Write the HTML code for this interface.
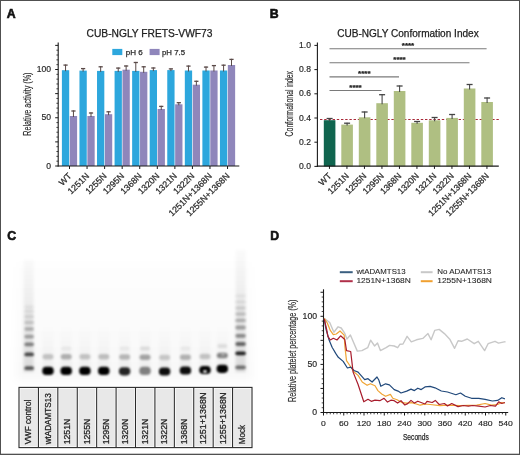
<!DOCTYPE html>
<html><head><meta charset="utf-8"><style>
html,body{margin:0;padding:0;background:#fff;}
body{width:520px;height:455px;overflow:hidden;position:relative;font-family:"Liberation Sans", sans-serif;}
svg{position:absolute;left:0;top:0;will-change:transform;}
</style></head><body>
<svg width="520" height="455" viewBox="0 0 520 455" font-family='"Liberation Sans", sans-serif'>
<defs>
<filter id="bl" x="-50%" y="-100%" width="200%" height="300%"><feGaussianBlur stdDeviation="1.1"/></filter>
<filter id="bl2" x="-50%" y="-10%" width="200%" height="120%"><feGaussianBlur stdDeviation="1.5"/></filter>
<filter id="bl4" x="-50%" y="-100%" width="200%" height="300%"><feGaussianBlur stdDeviation="1.3"/></filter>
<linearGradient id="lsm" x1="0" y1="0" x2="0" y2="1"><stop offset="0" stop-color="#000" stop-opacity="0"/><stop offset="1" stop-color="#000" stop-opacity="0.04"/></linearGradient>
<filter id="bl3" x="-10%" y="-10%" width="120%" height="120%"><feGaussianBlur stdDeviation="4"/></filter>
<linearGradient id="haze" x1="0" y1="0" x2="0" y2="1"><stop offset="0" stop-color="#000" stop-opacity="0.005"/><stop offset="0.6" stop-color="#000" stop-opacity="0.018"/><stop offset="1" stop-color="#000" stop-opacity="0.03"/></linearGradient>
<linearGradient id="smear" x1="0" y1="0" x2="0" y2="1"><stop offset="0" stop-color="#000" stop-opacity="0.02"/><stop offset="0.5" stop-color="#000" stop-opacity="0.07"/><stop offset="1" stop-color="#000" stop-opacity="0.12"/></linearGradient>
</defs>
<rect x="0" y="0" width="520" height="455" fill="#fff"/>
<g><rect x="16" y="262" width="236" height="118" fill="url(#haze)" filter="url(#bl3)"/><rect x="23.6" y="260" width="10" height="112" fill="url(#smear)" filter="url(#bl2)"/><rect x="235.6" y="250" width="10" height="122" fill="url(#smear)" filter="url(#bl2)"/><rect x="24.40" y="366.30" width="9.60" height="3.80" rx="1.90" fill="#000" fill-opacity="0.600" filter="url(#bl4)"/><rect x="24.40" y="352.50" width="9.60" height="3.80" rx="1.90" fill="#000" fill-opacity="0.680" filter="url(#bl4)"/><rect x="24.40" y="342.40" width="9.60" height="3.80" rx="1.90" fill="#000" fill-opacity="0.440" filter="url(#bl4)"/><rect x="24.40" y="334.70" width="9.60" height="3.80" rx="1.90" fill="#000" fill-opacity="0.310" filter="url(#bl4)"/><rect x="24.40" y="327.10" width="9.60" height="3.80" rx="1.90" fill="#000" fill-opacity="0.240" filter="url(#bl4)"/><rect x="24.40" y="320.60" width="9.60" height="3.80" rx="1.90" fill="#000" fill-opacity="0.160" filter="url(#bl4)"/><rect x="24.40" y="314.80" width="9.60" height="3.80" rx="1.90" fill="#000" fill-opacity="0.110" filter="url(#bl4)"/><rect x="24.40" y="309.50" width="9.60" height="3.80" rx="1.90" fill="#000" fill-opacity="0.070" filter="url(#bl4)"/><rect x="24.40" y="305.10" width="9.60" height="3.80" rx="1.90" fill="#000" fill-opacity="0.050" filter="url(#bl4)"/><rect x="235.35" y="365.40" width="10.50" height="3.80" rx="1.90" fill="#000" fill-opacity="0.500" filter="url(#bl)"/><rect x="235.35" y="351.40" width="10.50" height="3.80" rx="1.90" fill="#000" fill-opacity="0.850" filter="url(#bl)"/><rect x="235.35" y="342.10" width="10.50" height="3.80" rx="1.90" fill="#000" fill-opacity="0.550" filter="url(#bl)"/><rect x="235.35" y="333.90" width="10.50" height="3.80" rx="1.90" fill="#000" fill-opacity="0.400" filter="url(#bl)"/><rect x="235.35" y="325.60" width="10.50" height="3.80" rx="1.90" fill="#000" fill-opacity="0.320" filter="url(#bl)"/><rect x="235.35" y="318.50" width="10.50" height="3.80" rx="1.90" fill="#000" fill-opacity="0.250" filter="url(#bl)"/><rect x="235.35" y="312.10" width="10.50" height="3.80" rx="1.90" fill="#000" fill-opacity="0.180" filter="url(#bl)"/><rect x="235.35" y="306.10" width="10.50" height="3.80" rx="1.90" fill="#000" fill-opacity="0.130" filter="url(#bl)"/><rect x="235.35" y="300.10" width="10.50" height="3.80" rx="1.90" fill="#000" fill-opacity="0.080" filter="url(#bl)"/><rect x="235.35" y="294.10" width="10.50" height="3.80" rx="1.90" fill="#000" fill-opacity="0.050" filter="url(#bl)"/><rect x="42.5" y="325" width="11" height="47" fill="url(#lsm)" filter="url(#bl2)"/><rect x="60.7" y="325" width="11" height="47" fill="url(#lsm)" filter="url(#bl2)"/><rect x="79.4" y="325" width="11" height="47" fill="url(#lsm)" filter="url(#bl2)"/><rect x="98.3" y="325" width="11" height="47" fill="url(#lsm)" filter="url(#bl2)"/><rect x="119.1" y="325" width="11" height="47" fill="url(#lsm)" filter="url(#bl2)"/><rect x="139.5" y="325" width="11" height="47" fill="url(#lsm)" filter="url(#bl2)"/><rect x="159.1" y="325" width="11" height="47" fill="url(#lsm)" filter="url(#bl2)"/><rect x="179.9" y="325" width="11" height="47" fill="url(#lsm)" filter="url(#bl2)"/><rect x="199.5" y="325" width="11" height="47" fill="url(#lsm)" filter="url(#bl2)"/><rect x="216.8" y="325" width="11" height="47" fill="url(#lsm)" filter="url(#bl2)"/><rect x="42.30" y="366.80" width="11.40" height="8.20" rx="3.80" fill="#000" fill-opacity="1.000" filter="url(#bl)"/><rect x="42.50" y="354.05" width="11.00" height="5.50" rx="2.75" fill="#000" fill-opacity="0.200" filter="url(#bl)"/><rect x="60.50" y="366.80" width="11.40" height="8.20" rx="3.80" fill="#000" fill-opacity="1.000" filter="url(#bl)"/><rect x="60.70" y="354.05" width="11.00" height="5.50" rx="2.75" fill="#000" fill-opacity="0.280" filter="url(#bl)"/><rect x="79.20" y="366.80" width="11.40" height="8.20" rx="3.80" fill="#000" fill-opacity="1.000" filter="url(#bl)"/><rect x="79.40" y="354.05" width="11.00" height="5.50" rx="2.75" fill="#000" fill-opacity="0.200" filter="url(#bl)"/><rect x="98.10" y="366.80" width="11.40" height="8.20" rx="3.80" fill="#000" fill-opacity="1.000" filter="url(#bl)"/><rect x="98.30" y="354.05" width="11.00" height="5.50" rx="2.75" fill="#000" fill-opacity="0.220" filter="url(#bl)"/><rect x="118.90" y="367.20" width="11.40" height="8.20" rx="3.80" fill="#000" fill-opacity="0.850" filter="url(#bl)"/><rect x="119.10" y="354.35" width="11.00" height="5.50" rx="2.75" fill="#000" fill-opacity="0.250" filter="url(#bl)"/><rect x="139.30" y="366.80" width="11.40" height="8.20" rx="3.80" fill="#000" fill-opacity="0.470" filter="url(#bl)"/><rect x="139.50" y="354.45" width="11.00" height="5.50" rx="2.75" fill="#000" fill-opacity="0.330" filter="url(#bl)"/><rect x="158.90" y="367.40" width="11.40" height="8.20" rx="3.80" fill="#000" fill-opacity="0.950" filter="url(#bl)"/><rect x="159.10" y="354.65" width="11.00" height="5.50" rx="2.75" fill="#000" fill-opacity="0.180" filter="url(#bl)"/><rect x="179.70" y="366.40" width="11.40" height="8.20" rx="3.80" fill="#000" fill-opacity="0.950" filter="url(#bl)"/><rect x="179.90" y="354.45" width="11.00" height="5.50" rx="2.75" fill="#000" fill-opacity="0.270" filter="url(#bl)"/><rect x="199.30" y="365.90" width="11.40" height="8.20" rx="3.80" fill="#000" fill-opacity="1.000" filter="url(#bl)"/><rect x="199.50" y="353.85" width="11.00" height="5.50" rx="2.75" fill="#000" fill-opacity="0.200" filter="url(#bl)"/><rect x="216.60" y="364.70" width="11.40" height="8.20" rx="3.80" fill="#000" fill-opacity="1.000" filter="url(#bl)"/><rect x="216.80" y="352.65" width="11.00" height="5.50" rx="2.75" fill="#000" fill-opacity="0.450" filter="url(#bl)"/><rect x="140.00" y="346.50" width="10.00" height="4.00" rx="2.00" fill="#000" fill-opacity="0.100" filter="url(#bl)"/><rect x="217.30" y="344.00" width="10.00" height="4.00" rx="2.00" fill="#000" fill-opacity="0.100" filter="url(#bl)"/><rect x="61.20" y="346.50" width="10.00" height="4.00" rx="2.00" fill="#000" fill-opacity="0.050" filter="url(#bl)"/><rect x="119.60" y="346.50" width="10.00" height="4.00" rx="2.00" fill="#000" fill-opacity="0.050" filter="url(#bl)"/><rect x="180.40" y="346.50" width="10.00" height="4.00" rx="2.00" fill="#000" fill-opacity="0.050" filter="url(#bl)"/><ellipse cx="205" cy="371.6" rx="1.8" ry="1.5" fill="#fff" filter="url(#bl)"/><ellipse cx="223" cy="354.5" rx="1.5" ry="0.9" fill="#fff" fill-opacity="0.5" filter="url(#bl)"/></g>
<text x="6.80" y="17.80" font-size="12.3" text-anchor="start" fill="#111" stroke="#111" stroke-width="0.6" font-weight="bold" >A</text>
<text x="86.50" y="36.80" font-size="10" text-anchor="start" fill="#222" stroke="#222" stroke-width="0.25" textLength="126" lengthAdjust="spacingAndGlyphs" >CUB-NGLY FRETS-VWF73</text>
<rect x="112.30" y="48.90" width="10.00" height="6.20" fill="#2da7dd" />
<text x="125.80" y="54.50" font-size="8" text-anchor="start" fill="#2a2a2a" stroke="#2a2a2a" stroke-width="0.25" textLength="17" lengthAdjust="spacingAndGlyphs" >pH 6</text>
<rect x="149.60" y="48.90" width="10.00" height="6.20" fill="#8f86bb" />
<text x="162.00" y="54.50" font-size="8" text-anchor="start" fill="#2a2a2a" stroke="#2a2a2a" stroke-width="0.25" textLength="23" lengthAdjust="spacingAndGlyphs" >pH 7.5</text>
<rect x="61.90" y="70.20" width="7.30" height="95.80" fill="#2da7dd" />
<rect x="69.80" y="116.00" width="7.30" height="50.00" fill="#8f86bb" />
<rect x="79.46" y="70.60" width="7.30" height="95.40" fill="#2da7dd" />
<rect x="87.36" y="116.00" width="7.30" height="50.00" fill="#8f86bb" />
<rect x="97.02" y="70.90" width="7.30" height="95.10" fill="#2da7dd" />
<rect x="104.92" y="114.20" width="7.30" height="51.80" fill="#8f86bb" />
<rect x="114.58" y="70.90" width="7.30" height="95.10" fill="#2da7dd" />
<rect x="122.48" y="69.70" width="7.30" height="96.30" fill="#8f86bb" />
<rect x="132.14" y="70.90" width="7.30" height="95.10" fill="#2da7dd" />
<rect x="140.04" y="71.80" width="7.30" height="94.20" fill="#8f86bb" />
<rect x="149.70" y="70.10" width="7.30" height="95.90" fill="#2da7dd" />
<rect x="157.60" y="109.00" width="7.30" height="57.00" fill="#8f86bb" />
<rect x="167.26" y="70.10" width="7.30" height="95.90" fill="#2da7dd" />
<rect x="175.16" y="104.30" width="7.30" height="61.70" fill="#8f86bb" />
<rect x="184.82" y="70.50" width="7.30" height="95.50" fill="#2da7dd" />
<rect x="192.72" y="84.70" width="7.30" height="81.30" fill="#8f86bb" />
<rect x="202.38" y="70.50" width="7.30" height="95.50" fill="#2da7dd" />
<rect x="210.28" y="70.50" width="7.30" height="95.50" fill="#8f86bb" />
<rect x="219.94" y="70.50" width="7.30" height="95.50" fill="#2da7dd" />
<rect x="227.84" y="65.00" width="7.30" height="101.00" fill="#8f86bb" />
<line x1="65.55" y1="64.50" x2="65.55" y2="71.20" stroke="#5a4a48" stroke-width="1" />
<line x1="63.45" y1="65.10" x2="67.65" y2="65.10" stroke="#5a4a48" stroke-width="1.3" />
<line x1="73.45" y1="110.40" x2="73.45" y2="117.00" stroke="#5a4a48" stroke-width="1" />
<line x1="71.35" y1="111.00" x2="75.55" y2="111.00" stroke="#5a4a48" stroke-width="1.3" />
<line x1="83.11" y1="68.00" x2="83.11" y2="71.60" stroke="#5a4a48" stroke-width="1" />
<line x1="81.01" y1="68.60" x2="85.21" y2="68.60" stroke="#5a4a48" stroke-width="1.3" />
<line x1="91.01" y1="112.40" x2="91.01" y2="117.00" stroke="#5a4a48" stroke-width="1" />
<line x1="88.91" y1="113.00" x2="93.11" y2="113.00" stroke="#5a4a48" stroke-width="1.3" />
<line x1="100.67" y1="66.20" x2="100.67" y2="71.90" stroke="#5a4a48" stroke-width="1" />
<line x1="98.57" y1="66.80" x2="102.77" y2="66.80" stroke="#5a4a48" stroke-width="1.3" />
<line x1="108.57" y1="111.20" x2="108.57" y2="115.20" stroke="#5a4a48" stroke-width="1" />
<line x1="106.47" y1="111.80" x2="110.67" y2="111.80" stroke="#5a4a48" stroke-width="1.3" />
<line x1="118.23" y1="67.50" x2="118.23" y2="71.90" stroke="#5a4a48" stroke-width="1" />
<line x1="116.13" y1="68.10" x2="120.33" y2="68.10" stroke="#5a4a48" stroke-width="1.3" />
<line x1="126.13" y1="65.40" x2="126.13" y2="70.70" stroke="#5a4a48" stroke-width="1" />
<line x1="124.03" y1="66.00" x2="128.23" y2="66.00" stroke="#5a4a48" stroke-width="1.3" />
<line x1="135.79" y1="61.90" x2="135.79" y2="71.90" stroke="#5a4a48" stroke-width="1" />
<line x1="133.69" y1="62.50" x2="137.89" y2="62.50" stroke="#5a4a48" stroke-width="1.3" />
<line x1="143.69" y1="66.20" x2="143.69" y2="72.80" stroke="#5a4a48" stroke-width="1" />
<line x1="141.59" y1="66.80" x2="145.79" y2="66.80" stroke="#5a4a48" stroke-width="1.3" />
<line x1="153.35" y1="67.40" x2="153.35" y2="71.10" stroke="#5a4a48" stroke-width="1" />
<line x1="151.25" y1="68.00" x2="155.45" y2="68.00" stroke="#5a4a48" stroke-width="1.3" />
<line x1="161.25" y1="105.80" x2="161.25" y2="110.00" stroke="#5a4a48" stroke-width="1" />
<line x1="159.15" y1="106.40" x2="163.35" y2="106.40" stroke="#5a4a48" stroke-width="1.3" />
<line x1="170.91" y1="68.30" x2="170.91" y2="71.10" stroke="#5a4a48" stroke-width="1" />
<line x1="168.81" y1="68.90" x2="173.01" y2="68.90" stroke="#5a4a48" stroke-width="1.3" />
<line x1="178.81" y1="102.10" x2="178.81" y2="105.30" stroke="#5a4a48" stroke-width="1" />
<line x1="176.71" y1="102.70" x2="180.91" y2="102.70" stroke="#5a4a48" stroke-width="1.3" />
<line x1="188.47" y1="65.50" x2="188.47" y2="71.50" stroke="#5a4a48" stroke-width="1" />
<line x1="186.37" y1="66.10" x2="190.57" y2="66.10" stroke="#5a4a48" stroke-width="1.3" />
<line x1="196.37" y1="80.70" x2="196.37" y2="85.70" stroke="#5a4a48" stroke-width="1" />
<line x1="194.27" y1="81.30" x2="198.47" y2="81.30" stroke="#5a4a48" stroke-width="1.3" />
<line x1="206.03" y1="66.50" x2="206.03" y2="71.50" stroke="#5a4a48" stroke-width="1" />
<line x1="203.93" y1="67.10" x2="208.13" y2="67.10" stroke="#5a4a48" stroke-width="1.3" />
<line x1="213.93" y1="65.00" x2="213.93" y2="71.50" stroke="#5a4a48" stroke-width="1" />
<line x1="211.83" y1="65.60" x2="216.03" y2="65.60" stroke="#5a4a48" stroke-width="1.3" />
<line x1="223.59" y1="64.60" x2="223.59" y2="71.50" stroke="#5a4a48" stroke-width="1" />
<line x1="221.49" y1="65.20" x2="225.69" y2="65.20" stroke="#5a4a48" stroke-width="1.3" />
<line x1="231.49" y1="58.80" x2="231.49" y2="66.00" stroke="#5a4a48" stroke-width="1" />
<line x1="229.39" y1="59.40" x2="233.59" y2="59.40" stroke="#5a4a48" stroke-width="1.3" />
<line x1="58.20" y1="42.60" x2="58.20" y2="166.60" stroke="#1a1a1a" stroke-width="1.1" />
<line x1="57.70" y1="166.00" x2="239.30" y2="166.00" stroke="#1a1a1a" stroke-width="1.1" />
<line x1="55.20" y1="166.00" x2="58.20" y2="166.00" stroke="#1a1a1a" stroke-width="1" />
<line x1="56.40" y1="161.18" x2="58.20" y2="161.18" stroke="#1a1a1a" stroke-width="0.8" />
<line x1="56.40" y1="156.35" x2="58.20" y2="156.35" stroke="#1a1a1a" stroke-width="0.8" />
<line x1="56.40" y1="151.53" x2="58.20" y2="151.53" stroke="#1a1a1a" stroke-width="0.8" />
<line x1="56.40" y1="146.70" x2="58.20" y2="146.70" stroke="#1a1a1a" stroke-width="0.8" />
<line x1="55.20" y1="141.88" x2="58.20" y2="141.88" stroke="#1a1a1a" stroke-width="1" />
<line x1="56.40" y1="137.05" x2="58.20" y2="137.05" stroke="#1a1a1a" stroke-width="0.8" />
<line x1="56.40" y1="132.22" x2="58.20" y2="132.22" stroke="#1a1a1a" stroke-width="0.8" />
<line x1="56.40" y1="127.40" x2="58.20" y2="127.40" stroke="#1a1a1a" stroke-width="0.8" />
<line x1="56.40" y1="122.58" x2="58.20" y2="122.58" stroke="#1a1a1a" stroke-width="0.8" />
<line x1="55.20" y1="117.75" x2="58.20" y2="117.75" stroke="#1a1a1a" stroke-width="1" />
<line x1="56.40" y1="112.93" x2="58.20" y2="112.93" stroke="#1a1a1a" stroke-width="0.8" />
<line x1="56.40" y1="108.10" x2="58.20" y2="108.10" stroke="#1a1a1a" stroke-width="0.8" />
<line x1="56.40" y1="103.28" x2="58.20" y2="103.28" stroke="#1a1a1a" stroke-width="0.8" />
<line x1="56.40" y1="98.45" x2="58.20" y2="98.45" stroke="#1a1a1a" stroke-width="0.8" />
<line x1="55.20" y1="93.62" x2="58.20" y2="93.62" stroke="#1a1a1a" stroke-width="1" />
<line x1="56.40" y1="88.80" x2="58.20" y2="88.80" stroke="#1a1a1a" stroke-width="0.8" />
<line x1="56.40" y1="83.98" x2="58.20" y2="83.98" stroke="#1a1a1a" stroke-width="0.8" />
<line x1="56.40" y1="79.15" x2="58.20" y2="79.15" stroke="#1a1a1a" stroke-width="0.8" />
<line x1="56.40" y1="74.33" x2="58.20" y2="74.33" stroke="#1a1a1a" stroke-width="0.8" />
<line x1="55.20" y1="69.50" x2="58.20" y2="69.50" stroke="#1a1a1a" stroke-width="1" />
<line x1="56.40" y1="64.67" x2="58.20" y2="64.67" stroke="#1a1a1a" stroke-width="0.8" />
<line x1="56.40" y1="59.85" x2="58.20" y2="59.85" stroke="#1a1a1a" stroke-width="0.8" />
<line x1="56.40" y1="55.03" x2="58.20" y2="55.03" stroke="#1a1a1a" stroke-width="0.8" />
<line x1="56.40" y1="50.20" x2="58.20" y2="50.20" stroke="#1a1a1a" stroke-width="0.8" />
<line x1="55.20" y1="45.38" x2="58.20" y2="45.38" stroke="#1a1a1a" stroke-width="1" />
<text x="51.10" y="168.60" font-size="8.3" text-anchor="end" fill="#2a2a2a" stroke="#2a2a2a" stroke-width="0.18" textLength="4.78" lengthAdjust="spacingAndGlyphs" >0</text>
<text x="51.10" y="120.35" font-size="8.3" text-anchor="end" fill="#2a2a2a" stroke="#2a2a2a" stroke-width="0.18" textLength="9.56" lengthAdjust="spacingAndGlyphs" >50</text>
<text x="51.10" y="72.10" font-size="8.3" text-anchor="end" fill="#2a2a2a" stroke="#2a2a2a" stroke-width="0.18" textLength="14.35" lengthAdjust="spacingAndGlyphs" >100</text>
<text x="30.80" y="104.10" font-size="10.2" text-anchor="middle" fill="#2a2a2a" stroke="#2a2a2a" stroke-width="0.15" textLength="63.2" lengthAdjust="spacingAndGlyphs" transform="rotate(-90 30.80 104.10)" >Relative activity (%)</text>
<line x1="69.50" y1="166.00" x2="69.50" y2="169.00" stroke="#1a1a1a" stroke-width="1" />
<text x="72.10" y="176.50" font-size="8.8" text-anchor="end" fill="#2a2a2a" stroke="#2a2a2a" stroke-width="0.25" textLength="13.68" lengthAdjust="spacingAndGlyphs" transform="rotate(-45 72.10 176.50)" >WT</text>
<line x1="87.06" y1="166.00" x2="87.06" y2="169.00" stroke="#1a1a1a" stroke-width="1" />
<text x="89.66" y="176.50" font-size="8.8" text-anchor="end" fill="#2a2a2a" stroke="#2a2a2a" stroke-width="0.25" textLength="25.93" lengthAdjust="spacingAndGlyphs" transform="rotate(-45 89.66 176.50)" >1251N</text>
<line x1="104.62" y1="166.00" x2="104.62" y2="169.00" stroke="#1a1a1a" stroke-width="1" />
<text x="107.22" y="176.50" font-size="8.8" text-anchor="end" fill="#2a2a2a" stroke="#2a2a2a" stroke-width="0.25" textLength="25.93" lengthAdjust="spacingAndGlyphs" transform="rotate(-45 107.22 176.50)" >1255N</text>
<line x1="122.18" y1="166.00" x2="122.18" y2="169.00" stroke="#1a1a1a" stroke-width="1" />
<text x="124.78" y="176.50" font-size="8.8" text-anchor="end" fill="#2a2a2a" stroke="#2a2a2a" stroke-width="0.25" textLength="25.93" lengthAdjust="spacingAndGlyphs" transform="rotate(-45 124.78 176.50)" >1295N</text>
<line x1="139.74" y1="166.00" x2="139.74" y2="169.00" stroke="#1a1a1a" stroke-width="1" />
<text x="142.34" y="176.50" font-size="8.8" text-anchor="end" fill="#2a2a2a" stroke="#2a2a2a" stroke-width="0.25" textLength="25.93" lengthAdjust="spacingAndGlyphs" transform="rotate(-45 142.34 176.50)" >1368N</text>
<line x1="157.30" y1="166.00" x2="157.30" y2="169.00" stroke="#1a1a1a" stroke-width="1" />
<text x="159.90" y="176.50" font-size="8.8" text-anchor="end" fill="#2a2a2a" stroke="#2a2a2a" stroke-width="0.25" textLength="25.93" lengthAdjust="spacingAndGlyphs" transform="rotate(-45 159.90 176.50)" >1320N</text>
<line x1="174.86" y1="166.00" x2="174.86" y2="169.00" stroke="#1a1a1a" stroke-width="1" />
<text x="177.46" y="176.50" font-size="8.8" text-anchor="end" fill="#2a2a2a" stroke="#2a2a2a" stroke-width="0.25" textLength="25.93" lengthAdjust="spacingAndGlyphs" transform="rotate(-45 177.46 176.50)" >1321N</text>
<line x1="192.42" y1="166.00" x2="192.42" y2="169.00" stroke="#1a1a1a" stroke-width="1" />
<text x="195.02" y="176.50" font-size="8.8" text-anchor="end" fill="#2a2a2a" stroke="#2a2a2a" stroke-width="0.25" textLength="25.93" lengthAdjust="spacingAndGlyphs" transform="rotate(-45 195.02 176.50)" >1322N</text>
<line x1="209.98" y1="166.00" x2="209.98" y2="169.00" stroke="#1a1a1a" stroke-width="1" />
<text x="212.58" y="176.50" font-size="8.8" text-anchor="end" fill="#2a2a2a" stroke="#2a2a2a" stroke-width="0.25" textLength="57.0" lengthAdjust="spacingAndGlyphs" transform="rotate(-45 212.58 176.50)" >1251N+1368N</text>
<line x1="227.54" y1="166.00" x2="227.54" y2="169.00" stroke="#1a1a1a" stroke-width="1" />
<text x="230.14" y="176.50" font-size="8.8" text-anchor="end" fill="#2a2a2a" stroke="#2a2a2a" stroke-width="0.25" textLength="57.0" lengthAdjust="spacingAndGlyphs" transform="rotate(-45 230.14 176.50)" >1255N+1368N</text>
<text x="269.80" y="17.80" font-size="12.3" text-anchor="start" fill="#111" stroke="#111" stroke-width="0.6" font-weight="bold" >B</text>
<text x="337.20" y="36.80" font-size="10" text-anchor="start" fill="#222" stroke="#222" stroke-width="0.25" textLength="141.5" lengthAdjust="spacingAndGlyphs" >CUB-NGLY Conformation Index</text>
<line x1="320.00" y1="119.50" x2="499.70" y2="119.50" stroke="#a82838" stroke-width="1.1" stroke-dasharray="2.4 1.8"/>
<rect x="323.80" y="120.20" width="11.60" height="46.20" fill="#10654f" />
<rect x="341.30" y="124.60" width="11.60" height="41.80" fill="#afbf82" />
<rect x="358.80" y="117.30" width="11.60" height="49.10" fill="#afbf82" />
<rect x="376.30" y="103.20" width="11.60" height="63.20" fill="#afbf82" />
<rect x="393.80" y="91.00" width="11.60" height="75.40" fill="#afbf82" />
<rect x="411.30" y="122.80" width="11.60" height="43.60" fill="#afbf82" />
<rect x="428.80" y="120.30" width="11.60" height="46.10" fill="#afbf82" />
<rect x="446.30" y="117.90" width="11.60" height="48.50" fill="#afbf82" />
<rect x="463.80" y="88.50" width="11.60" height="77.90" fill="#afbf82" />
<rect x="481.30" y="102.00" width="11.60" height="64.40" fill="#afbf82" />
<line x1="329.60" y1="118.00" x2="329.60" y2="121.20" stroke="#4a4a4a" stroke-width="1.1" />
<line x1="326.60" y1="118.50" x2="332.60" y2="118.50" stroke="#444" stroke-width="1.3" />
<line x1="347.10" y1="122.70" x2="347.10" y2="125.60" stroke="#4a4a4a" stroke-width="1.1" />
<line x1="344.10" y1="123.20" x2="350.10" y2="123.20" stroke="#444" stroke-width="1.3" />
<line x1="364.60" y1="111.50" x2="364.60" y2="118.30" stroke="#4a4a4a" stroke-width="1.1" />
<line x1="361.60" y1="112.00" x2="367.60" y2="112.00" stroke="#444" stroke-width="1.3" />
<line x1="382.10" y1="94.20" x2="382.10" y2="104.20" stroke="#4a4a4a" stroke-width="1.1" />
<line x1="379.10" y1="94.70" x2="385.10" y2="94.70" stroke="#444" stroke-width="1.3" />
<line x1="399.60" y1="85.50" x2="399.60" y2="92.00" stroke="#4a4a4a" stroke-width="1.1" />
<line x1="396.60" y1="86.00" x2="402.60" y2="86.00" stroke="#444" stroke-width="1.3" />
<line x1="417.10" y1="121.00" x2="417.10" y2="123.80" stroke="#4a4a4a" stroke-width="1.1" />
<line x1="414.10" y1="121.50" x2="420.10" y2="121.50" stroke="#444" stroke-width="1.3" />
<line x1="434.60" y1="117.00" x2="434.60" y2="121.30" stroke="#4a4a4a" stroke-width="1.1" />
<line x1="431.60" y1="117.50" x2="437.60" y2="117.50" stroke="#444" stroke-width="1.3" />
<line x1="452.10" y1="114.00" x2="452.10" y2="118.90" stroke="#4a4a4a" stroke-width="1.1" />
<line x1="449.10" y1="114.50" x2="455.10" y2="114.50" stroke="#444" stroke-width="1.3" />
<line x1="469.60" y1="84.00" x2="469.60" y2="89.50" stroke="#4a4a4a" stroke-width="1.1" />
<line x1="466.60" y1="84.50" x2="472.60" y2="84.50" stroke="#444" stroke-width="1.3" />
<line x1="487.10" y1="97.50" x2="487.10" y2="103.00" stroke="#4a4a4a" stroke-width="1.1" />
<line x1="484.10" y1="98.00" x2="490.10" y2="98.00" stroke="#444" stroke-width="1.3" />
<line x1="317.40" y1="42.50" x2="317.40" y2="167.00" stroke="#1a1a1a" stroke-width="1.1" />
<line x1="316.90" y1="166.10" x2="498.80" y2="166.10" stroke="#1a1a1a" stroke-width="1.1" />
<line x1="314.40" y1="166.40" x2="317.40" y2="166.40" stroke="#1a1a1a" stroke-width="1" />
<text x="311.00" y="169.00" font-size="8.3" text-anchor="end" fill="#2a2a2a" stroke="#2a2a2a" stroke-width="0.18" textLength="11.95" lengthAdjust="spacingAndGlyphs" >0.0</text>
<line x1="314.40" y1="142.20" x2="317.40" y2="142.20" stroke="#1a1a1a" stroke-width="1" />
<text x="311.00" y="144.80" font-size="8.3" text-anchor="end" fill="#2a2a2a" stroke="#2a2a2a" stroke-width="0.18" textLength="11.95" lengthAdjust="spacingAndGlyphs" >0.2</text>
<line x1="314.40" y1="118.00" x2="317.40" y2="118.00" stroke="#1a1a1a" stroke-width="1" />
<text x="311.00" y="120.60" font-size="8.3" text-anchor="end" fill="#2a2a2a" stroke="#2a2a2a" stroke-width="0.18" textLength="11.95" lengthAdjust="spacingAndGlyphs" >0.4</text>
<line x1="314.40" y1="93.80" x2="317.40" y2="93.80" stroke="#1a1a1a" stroke-width="1" />
<text x="311.00" y="96.40" font-size="8.3" text-anchor="end" fill="#2a2a2a" stroke="#2a2a2a" stroke-width="0.18" textLength="11.95" lengthAdjust="spacingAndGlyphs" >0.6</text>
<line x1="314.40" y1="69.60" x2="317.40" y2="69.60" stroke="#1a1a1a" stroke-width="1" />
<text x="311.00" y="72.20" font-size="8.3" text-anchor="end" fill="#2a2a2a" stroke="#2a2a2a" stroke-width="0.18" textLength="11.95" lengthAdjust="spacingAndGlyphs" >0.8</text>
<line x1="314.40" y1="45.40" x2="317.40" y2="45.40" stroke="#1a1a1a" stroke-width="1" />
<text x="311.00" y="48.00" font-size="8.3" text-anchor="end" fill="#2a2a2a" stroke="#2a2a2a" stroke-width="0.18" textLength="11.95" lengthAdjust="spacingAndGlyphs" >1.0</text>
<text x="293.10" y="103.70" font-size="10" text-anchor="middle" fill="#2a2a2a" stroke="#2a2a2a" stroke-width="0.15" textLength="65.4" lengthAdjust="spacingAndGlyphs" transform="rotate(-90 293.10 103.70)" >Conformational index</text>
<line x1="329.45" y1="165.80" x2="329.45" y2="168.90" stroke="#1a1a1a" stroke-width="1" />
<text x="332.05" y="176.50" font-size="8.8" text-anchor="end" fill="#2a2a2a" stroke="#2a2a2a" stroke-width="0.25" textLength="13.68" lengthAdjust="spacingAndGlyphs" transform="rotate(-45 332.05 176.50)" >WT</text>
<line x1="346.95" y1="165.80" x2="346.95" y2="168.90" stroke="#1a1a1a" stroke-width="1" />
<text x="349.55" y="176.50" font-size="8.8" text-anchor="end" fill="#2a2a2a" stroke="#2a2a2a" stroke-width="0.25" textLength="25.93" lengthAdjust="spacingAndGlyphs" transform="rotate(-45 349.55 176.50)" >1251N</text>
<line x1="364.45" y1="165.80" x2="364.45" y2="168.90" stroke="#1a1a1a" stroke-width="1" />
<text x="367.05" y="176.50" font-size="8.8" text-anchor="end" fill="#2a2a2a" stroke="#2a2a2a" stroke-width="0.25" textLength="25.93" lengthAdjust="spacingAndGlyphs" transform="rotate(-45 367.05 176.50)" >1255N</text>
<line x1="381.95" y1="165.80" x2="381.95" y2="168.90" stroke="#1a1a1a" stroke-width="1" />
<text x="384.55" y="176.50" font-size="8.8" text-anchor="end" fill="#2a2a2a" stroke="#2a2a2a" stroke-width="0.25" textLength="25.93" lengthAdjust="spacingAndGlyphs" transform="rotate(-45 384.55 176.50)" >1295N</text>
<line x1="399.45" y1="165.80" x2="399.45" y2="168.90" stroke="#1a1a1a" stroke-width="1" />
<text x="402.05" y="176.50" font-size="8.8" text-anchor="end" fill="#2a2a2a" stroke="#2a2a2a" stroke-width="0.25" textLength="25.93" lengthAdjust="spacingAndGlyphs" transform="rotate(-45 402.05 176.50)" >1368N</text>
<line x1="416.95" y1="165.80" x2="416.95" y2="168.90" stroke="#1a1a1a" stroke-width="1" />
<text x="419.55" y="176.50" font-size="8.8" text-anchor="end" fill="#2a2a2a" stroke="#2a2a2a" stroke-width="0.25" textLength="25.93" lengthAdjust="spacingAndGlyphs" transform="rotate(-45 419.55 176.50)" >1320N</text>
<line x1="434.45" y1="165.80" x2="434.45" y2="168.90" stroke="#1a1a1a" stroke-width="1" />
<text x="437.05" y="176.50" font-size="8.8" text-anchor="end" fill="#2a2a2a" stroke="#2a2a2a" stroke-width="0.25" textLength="25.93" lengthAdjust="spacingAndGlyphs" transform="rotate(-45 437.05 176.50)" >1321N</text>
<line x1="451.95" y1="165.80" x2="451.95" y2="168.90" stroke="#1a1a1a" stroke-width="1" />
<text x="454.55" y="176.50" font-size="8.8" text-anchor="end" fill="#2a2a2a" stroke="#2a2a2a" stroke-width="0.25" textLength="25.93" lengthAdjust="spacingAndGlyphs" transform="rotate(-45 454.55 176.50)" >1322N</text>
<line x1="469.45" y1="165.80" x2="469.45" y2="168.90" stroke="#1a1a1a" stroke-width="1" />
<text x="472.05" y="176.50" font-size="8.8" text-anchor="end" fill="#2a2a2a" stroke="#2a2a2a" stroke-width="0.25" textLength="57.0" lengthAdjust="spacingAndGlyphs" transform="rotate(-45 472.05 176.50)" >1251N+1368N</text>
<line x1="486.95" y1="165.80" x2="486.95" y2="168.90" stroke="#1a1a1a" stroke-width="1" />
<text x="489.55" y="176.50" font-size="8.8" text-anchor="end" fill="#2a2a2a" stroke="#2a2a2a" stroke-width="0.25" textLength="57.0" lengthAdjust="spacingAndGlyphs" transform="rotate(-45 489.55 176.50)" >1255N+1368N</text>
<line x1="329.50" y1="48.80" x2="486.60" y2="48.80" stroke="#7a7a7a" stroke-width="1.1" />
<text x="408.00" y="48.10" font-size="8" text-anchor="middle" fill="#222" stroke="#222" stroke-width="0.25" font-weight="bold" >****</text>
<line x1="329.50" y1="62.80" x2="469.50" y2="62.80" stroke="#7a7a7a" stroke-width="1.1" />
<text x="399.50" y="62.10" font-size="8" text-anchor="middle" fill="#222" stroke="#222" stroke-width="0.25" font-weight="bold" >****</text>
<line x1="329.50" y1="76.90" x2="399.00" y2="76.90" stroke="#7a7a7a" stroke-width="1.1" />
<text x="364.30" y="76.20" font-size="8" text-anchor="middle" fill="#222" stroke="#222" stroke-width="0.25" font-weight="bold" >****</text>
<line x1="329.50" y1="90.50" x2="381.50" y2="90.50" stroke="#7a7a7a" stroke-width="1.1" />
<text x="355.50" y="89.80" font-size="8" text-anchor="middle" fill="#222" stroke="#222" stroke-width="0.25" font-weight="bold" >****</text>
<text x="7.30" y="239.60" font-size="12.3" text-anchor="start" fill="#111" stroke="#111" stroke-width="0.6" font-weight="bold" >C</text>
<rect x="19.00" y="387.40" width="233.00" height="60.20" fill="#fff" stroke="#2a2a2a" stroke-width="1.1"/>
<rect x="20.30" y="388.70" width="16.82" height="57.60" fill="#e8e8e8" />
<rect x="39.72" y="388.70" width="16.82" height="57.60" fill="#e8e8e8" />
<rect x="59.13" y="388.70" width="16.82" height="57.60" fill="#e8e8e8" />
<rect x="78.55" y="388.70" width="16.82" height="57.60" fill="#e8e8e8" />
<rect x="97.97" y="388.70" width="16.82" height="57.60" fill="#e8e8e8" />
<rect x="117.38" y="388.70" width="16.82" height="57.60" fill="#e8e8e8" />
<rect x="136.80" y="388.70" width="16.82" height="57.60" fill="#e8e8e8" />
<rect x="156.22" y="388.70" width="16.82" height="57.60" fill="#e8e8e8" />
<rect x="175.63" y="388.70" width="16.82" height="57.60" fill="#e8e8e8" />
<rect x="195.05" y="388.70" width="16.82" height="57.60" fill="#e8e8e8" />
<rect x="214.47" y="388.70" width="16.82" height="57.60" fill="#e8e8e8" />
<rect x="233.88" y="388.70" width="16.82" height="57.60" fill="#e8e8e8" />
<line x1="38.42" y1="387.40" x2="38.42" y2="447.60" stroke="#2a2a2a" stroke-width="1.1" />
<line x1="57.83" y1="387.40" x2="57.83" y2="447.60" stroke="#2a2a2a" stroke-width="1.1" />
<line x1="77.25" y1="387.40" x2="77.25" y2="447.60" stroke="#2a2a2a" stroke-width="1.1" />
<line x1="96.67" y1="387.40" x2="96.67" y2="447.60" stroke="#2a2a2a" stroke-width="1.1" />
<line x1="116.08" y1="387.40" x2="116.08" y2="447.60" stroke="#2a2a2a" stroke-width="1.1" />
<line x1="135.50" y1="387.40" x2="135.50" y2="447.60" stroke="#2a2a2a" stroke-width="1.1" />
<line x1="154.92" y1="387.40" x2="154.92" y2="447.60" stroke="#2a2a2a" stroke-width="1.1" />
<line x1="174.33" y1="387.40" x2="174.33" y2="447.60" stroke="#2a2a2a" stroke-width="1.1" />
<line x1="193.75" y1="387.40" x2="193.75" y2="447.60" stroke="#2a2a2a" stroke-width="1.1" />
<line x1="213.17" y1="387.40" x2="213.17" y2="447.60" stroke="#2a2a2a" stroke-width="1.1" />
<line x1="232.58" y1="387.40" x2="232.58" y2="447.60" stroke="#2a2a2a" stroke-width="1.1" />
<text x="31.41" y="444.30" font-size="8.3" text-anchor="start" fill="#222" stroke="#222" stroke-width="0.25" textLength="44.67" lengthAdjust="spacingAndGlyphs" transform="rotate(-90 31.41 444.30)" >VWF control</text>
<text x="50.83" y="444.30" font-size="8.3" text-anchor="start" fill="#222" stroke="#222" stroke-width="0.25" textLength="50.99" lengthAdjust="spacingAndGlyphs" transform="rotate(-90 50.83 444.30)" >wtADAMTS13</text>
<text x="70.24" y="444.30" font-size="8.3" text-anchor="start" fill="#222" stroke="#222" stroke-width="0.25" textLength="25.64" lengthAdjust="spacingAndGlyphs" transform="rotate(-90 70.24 444.30)" >1251N</text>
<text x="89.66" y="444.30" font-size="8.3" text-anchor="start" fill="#222" stroke="#222" stroke-width="0.25" textLength="25.64" lengthAdjust="spacingAndGlyphs" transform="rotate(-90 89.66 444.30)" >1255N</text>
<text x="109.08" y="444.30" font-size="8.3" text-anchor="start" fill="#222" stroke="#222" stroke-width="0.25" textLength="25.64" lengthAdjust="spacingAndGlyphs" transform="rotate(-90 109.08 444.30)" >1295N</text>
<text x="128.49" y="444.30" font-size="8.3" text-anchor="start" fill="#222" stroke="#222" stroke-width="0.25" textLength="25.64" lengthAdjust="spacingAndGlyphs" transform="rotate(-90 128.49 444.30)" >1320N</text>
<text x="147.91" y="444.30" font-size="8.3" text-anchor="start" fill="#222" stroke="#222" stroke-width="0.25" textLength="25.64" lengthAdjust="spacingAndGlyphs" transform="rotate(-90 147.91 444.30)" >1321N</text>
<text x="167.32" y="444.30" font-size="8.3" text-anchor="start" fill="#222" stroke="#222" stroke-width="0.25" textLength="25.64" lengthAdjust="spacingAndGlyphs" transform="rotate(-90 167.32 444.30)" >1322N</text>
<text x="186.74" y="444.30" font-size="8.3" text-anchor="start" fill="#222" stroke="#222" stroke-width="0.25" textLength="25.64" lengthAdjust="spacingAndGlyphs" transform="rotate(-90 186.74 444.30)" >1368N</text>
<text x="206.16" y="444.30" font-size="8.3" text-anchor="start" fill="#222" stroke="#222" stroke-width="0.25" textLength="51.8" lengthAdjust="spacingAndGlyphs" transform="rotate(-90 206.16 444.30)" >1251+1368N</text>
<text x="225.57" y="444.30" font-size="8.3" text-anchor="start" fill="#222" stroke="#222" stroke-width="0.25" textLength="51.8" lengthAdjust="spacingAndGlyphs" transform="rotate(-90 225.57 444.30)" >1255+1368N</text>
<text x="244.99" y="444.30" font-size="8.3" text-anchor="start" fill="#222" stroke="#222" stroke-width="0.25" textLength="19.4" lengthAdjust="spacingAndGlyphs" transform="rotate(-90 244.99 444.30)" >Mock</text>
<text x="270.20" y="239.50" font-size="12.3" text-anchor="start" fill="#111" stroke="#111" stroke-width="0.6" font-weight="bold" >D</text>
<line x1="323.50" y1="289.30" x2="323.50" y2="413.10" stroke="#1a1a1a" stroke-width="1.1" />
<line x1="321.00" y1="412.50" x2="508.20" y2="412.50" stroke="#1a1a1a" stroke-width="1.1" />
<line x1="320.50" y1="412.50" x2="323.50" y2="412.50" stroke="#1a1a1a" stroke-width="1" />
<line x1="321.70" y1="407.69" x2="323.50" y2="407.69" stroke="#1a1a1a" stroke-width="0.8" />
<line x1="321.70" y1="402.88" x2="323.50" y2="402.88" stroke="#1a1a1a" stroke-width="0.8" />
<line x1="321.70" y1="398.07" x2="323.50" y2="398.07" stroke="#1a1a1a" stroke-width="0.8" />
<line x1="321.70" y1="393.26" x2="323.50" y2="393.26" stroke="#1a1a1a" stroke-width="0.8" />
<line x1="320.50" y1="388.45" x2="323.50" y2="388.45" stroke="#1a1a1a" stroke-width="1" />
<line x1="321.70" y1="383.64" x2="323.50" y2="383.64" stroke="#1a1a1a" stroke-width="0.8" />
<line x1="321.70" y1="378.83" x2="323.50" y2="378.83" stroke="#1a1a1a" stroke-width="0.8" />
<line x1="321.70" y1="374.02" x2="323.50" y2="374.02" stroke="#1a1a1a" stroke-width="0.8" />
<line x1="321.70" y1="369.21" x2="323.50" y2="369.21" stroke="#1a1a1a" stroke-width="0.8" />
<line x1="320.50" y1="364.40" x2="323.50" y2="364.40" stroke="#1a1a1a" stroke-width="1" />
<line x1="321.70" y1="359.59" x2="323.50" y2="359.59" stroke="#1a1a1a" stroke-width="0.8" />
<line x1="321.70" y1="354.78" x2="323.50" y2="354.78" stroke="#1a1a1a" stroke-width="0.8" />
<line x1="321.70" y1="349.97" x2="323.50" y2="349.97" stroke="#1a1a1a" stroke-width="0.8" />
<line x1="321.70" y1="345.16" x2="323.50" y2="345.16" stroke="#1a1a1a" stroke-width="0.8" />
<line x1="320.50" y1="340.35" x2="323.50" y2="340.35" stroke="#1a1a1a" stroke-width="1" />
<line x1="321.70" y1="335.54" x2="323.50" y2="335.54" stroke="#1a1a1a" stroke-width="0.8" />
<line x1="321.70" y1="330.73" x2="323.50" y2="330.73" stroke="#1a1a1a" stroke-width="0.8" />
<line x1="321.70" y1="325.92" x2="323.50" y2="325.92" stroke="#1a1a1a" stroke-width="0.8" />
<line x1="321.70" y1="321.11" x2="323.50" y2="321.11" stroke="#1a1a1a" stroke-width="0.8" />
<line x1="320.50" y1="316.30" x2="323.50" y2="316.30" stroke="#1a1a1a" stroke-width="1" />
<line x1="321.70" y1="311.49" x2="323.50" y2="311.49" stroke="#1a1a1a" stroke-width="0.8" />
<line x1="321.70" y1="306.68" x2="323.50" y2="306.68" stroke="#1a1a1a" stroke-width="0.8" />
<line x1="321.70" y1="301.87" x2="323.50" y2="301.87" stroke="#1a1a1a" stroke-width="0.8" />
<line x1="321.70" y1="297.06" x2="323.50" y2="297.06" stroke="#1a1a1a" stroke-width="0.8" />
<line x1="320.50" y1="292.25" x2="323.50" y2="292.25" stroke="#1a1a1a" stroke-width="1" />
<text x="317.10" y="415.10" font-size="8.3" text-anchor="end" fill="#2a2a2a" stroke="#2a2a2a" stroke-width="0.18" textLength="4.84" lengthAdjust="spacingAndGlyphs" >0</text>
<text x="317.10" y="367.00" font-size="8.3" text-anchor="end" fill="#2a2a2a" stroke="#2a2a2a" stroke-width="0.18" textLength="9.68" lengthAdjust="spacingAndGlyphs" >50</text>
<text x="317.10" y="318.90" font-size="8.3" text-anchor="end" fill="#2a2a2a" stroke="#2a2a2a" stroke-width="0.18" textLength="14.51" lengthAdjust="spacingAndGlyphs" >100</text>
<line x1="323.50" y1="412.50" x2="323.50" y2="415.50" stroke="#1a1a1a" stroke-width="1" />
<text x="323.50" y="426.40" font-size="8.1" text-anchor="middle" fill="#2a2a2a" stroke="#2a2a2a" stroke-width="0.18" textLength="4.78" lengthAdjust="spacingAndGlyphs" >0</text>
<line x1="326.88" y1="412.50" x2="326.88" y2="414.30" stroke="#1a1a1a" stroke-width="0.8" />
<line x1="330.25" y1="412.50" x2="330.25" y2="414.30" stroke="#1a1a1a" stroke-width="0.8" />
<line x1="333.62" y1="412.50" x2="333.62" y2="414.30" stroke="#1a1a1a" stroke-width="0.8" />
<line x1="337.00" y1="412.50" x2="337.00" y2="414.30" stroke="#1a1a1a" stroke-width="0.8" />
<line x1="340.38" y1="412.50" x2="340.38" y2="414.30" stroke="#1a1a1a" stroke-width="0.8" />
<line x1="343.75" y1="412.50" x2="343.75" y2="415.50" stroke="#1a1a1a" stroke-width="1" />
<text x="343.75" y="426.40" font-size="8.1" text-anchor="middle" fill="#2a2a2a" stroke="#2a2a2a" stroke-width="0.18" textLength="9.56" lengthAdjust="spacingAndGlyphs" >60</text>
<line x1="347.12" y1="412.50" x2="347.12" y2="414.30" stroke="#1a1a1a" stroke-width="0.8" />
<line x1="350.50" y1="412.50" x2="350.50" y2="414.30" stroke="#1a1a1a" stroke-width="0.8" />
<line x1="353.88" y1="412.50" x2="353.88" y2="414.30" stroke="#1a1a1a" stroke-width="0.8" />
<line x1="357.25" y1="412.50" x2="357.25" y2="414.30" stroke="#1a1a1a" stroke-width="0.8" />
<line x1="360.62" y1="412.50" x2="360.62" y2="414.30" stroke="#1a1a1a" stroke-width="0.8" />
<line x1="364.00" y1="412.50" x2="364.00" y2="415.50" stroke="#1a1a1a" stroke-width="1" />
<text x="364.00" y="426.40" font-size="8.1" text-anchor="middle" fill="#2a2a2a" stroke="#2a2a2a" stroke-width="0.18" textLength="14.35" lengthAdjust="spacingAndGlyphs" >120</text>
<line x1="367.38" y1="412.50" x2="367.38" y2="414.30" stroke="#1a1a1a" stroke-width="0.8" />
<line x1="370.75" y1="412.50" x2="370.75" y2="414.30" stroke="#1a1a1a" stroke-width="0.8" />
<line x1="374.12" y1="412.50" x2="374.12" y2="414.30" stroke="#1a1a1a" stroke-width="0.8" />
<line x1="377.50" y1="412.50" x2="377.50" y2="414.30" stroke="#1a1a1a" stroke-width="0.8" />
<line x1="380.88" y1="412.50" x2="380.88" y2="414.30" stroke="#1a1a1a" stroke-width="0.8" />
<line x1="384.25" y1="412.50" x2="384.25" y2="415.50" stroke="#1a1a1a" stroke-width="1" />
<text x="384.25" y="426.40" font-size="8.1" text-anchor="middle" fill="#2a2a2a" stroke="#2a2a2a" stroke-width="0.18" textLength="14.35" lengthAdjust="spacingAndGlyphs" >180</text>
<line x1="387.62" y1="412.50" x2="387.62" y2="414.30" stroke="#1a1a1a" stroke-width="0.8" />
<line x1="391.00" y1="412.50" x2="391.00" y2="414.30" stroke="#1a1a1a" stroke-width="0.8" />
<line x1="394.38" y1="412.50" x2="394.38" y2="414.30" stroke="#1a1a1a" stroke-width="0.8" />
<line x1="397.75" y1="412.50" x2="397.75" y2="414.30" stroke="#1a1a1a" stroke-width="0.8" />
<line x1="401.12" y1="412.50" x2="401.12" y2="414.30" stroke="#1a1a1a" stroke-width="0.8" />
<line x1="404.50" y1="412.50" x2="404.50" y2="415.50" stroke="#1a1a1a" stroke-width="1" />
<text x="404.50" y="426.40" font-size="8.1" text-anchor="middle" fill="#2a2a2a" stroke="#2a2a2a" stroke-width="0.18" textLength="14.35" lengthAdjust="spacingAndGlyphs" >240</text>
<line x1="407.88" y1="412.50" x2="407.88" y2="414.30" stroke="#1a1a1a" stroke-width="0.8" />
<line x1="411.25" y1="412.50" x2="411.25" y2="414.30" stroke="#1a1a1a" stroke-width="0.8" />
<line x1="414.62" y1="412.50" x2="414.62" y2="414.30" stroke="#1a1a1a" stroke-width="0.8" />
<line x1="418.00" y1="412.50" x2="418.00" y2="414.30" stroke="#1a1a1a" stroke-width="0.8" />
<line x1="421.38" y1="412.50" x2="421.38" y2="414.30" stroke="#1a1a1a" stroke-width="0.8" />
<line x1="424.75" y1="412.50" x2="424.75" y2="415.50" stroke="#1a1a1a" stroke-width="1" />
<text x="424.75" y="426.40" font-size="8.1" text-anchor="middle" fill="#2a2a2a" stroke="#2a2a2a" stroke-width="0.18" textLength="14.35" lengthAdjust="spacingAndGlyphs" >300</text>
<line x1="428.12" y1="412.50" x2="428.12" y2="414.30" stroke="#1a1a1a" stroke-width="0.8" />
<line x1="431.50" y1="412.50" x2="431.50" y2="414.30" stroke="#1a1a1a" stroke-width="0.8" />
<line x1="434.88" y1="412.50" x2="434.88" y2="414.30" stroke="#1a1a1a" stroke-width="0.8" />
<line x1="438.25" y1="412.50" x2="438.25" y2="414.30" stroke="#1a1a1a" stroke-width="0.8" />
<line x1="441.62" y1="412.50" x2="441.62" y2="414.30" stroke="#1a1a1a" stroke-width="0.8" />
<line x1="445.00" y1="412.50" x2="445.00" y2="415.50" stroke="#1a1a1a" stroke-width="1" />
<text x="445.00" y="426.40" font-size="8.1" text-anchor="middle" fill="#2a2a2a" stroke="#2a2a2a" stroke-width="0.18" textLength="14.35" lengthAdjust="spacingAndGlyphs" >360</text>
<line x1="448.38" y1="412.50" x2="448.38" y2="414.30" stroke="#1a1a1a" stroke-width="0.8" />
<line x1="451.75" y1="412.50" x2="451.75" y2="414.30" stroke="#1a1a1a" stroke-width="0.8" />
<line x1="455.12" y1="412.50" x2="455.12" y2="414.30" stroke="#1a1a1a" stroke-width="0.8" />
<line x1="458.50" y1="412.50" x2="458.50" y2="414.30" stroke="#1a1a1a" stroke-width="0.8" />
<line x1="461.88" y1="412.50" x2="461.88" y2="414.30" stroke="#1a1a1a" stroke-width="0.8" />
<line x1="465.25" y1="412.50" x2="465.25" y2="415.50" stroke="#1a1a1a" stroke-width="1" />
<text x="465.25" y="426.40" font-size="8.1" text-anchor="middle" fill="#2a2a2a" stroke="#2a2a2a" stroke-width="0.18" textLength="14.35" lengthAdjust="spacingAndGlyphs" >420</text>
<line x1="468.62" y1="412.50" x2="468.62" y2="414.30" stroke="#1a1a1a" stroke-width="0.8" />
<line x1="472.00" y1="412.50" x2="472.00" y2="414.30" stroke="#1a1a1a" stroke-width="0.8" />
<line x1="475.38" y1="412.50" x2="475.38" y2="414.30" stroke="#1a1a1a" stroke-width="0.8" />
<line x1="478.75" y1="412.50" x2="478.75" y2="414.30" stroke="#1a1a1a" stroke-width="0.8" />
<line x1="482.12" y1="412.50" x2="482.12" y2="414.30" stroke="#1a1a1a" stroke-width="0.8" />
<line x1="485.50" y1="412.50" x2="485.50" y2="415.50" stroke="#1a1a1a" stroke-width="1" />
<text x="485.50" y="426.40" font-size="8.1" text-anchor="middle" fill="#2a2a2a" stroke="#2a2a2a" stroke-width="0.18" textLength="14.35" lengthAdjust="spacingAndGlyphs" >480</text>
<line x1="488.88" y1="412.50" x2="488.88" y2="414.30" stroke="#1a1a1a" stroke-width="0.8" />
<line x1="492.25" y1="412.50" x2="492.25" y2="414.30" stroke="#1a1a1a" stroke-width="0.8" />
<line x1="495.62" y1="412.50" x2="495.62" y2="414.30" stroke="#1a1a1a" stroke-width="0.8" />
<line x1="499.00" y1="412.50" x2="499.00" y2="414.30" stroke="#1a1a1a" stroke-width="0.8" />
<line x1="502.38" y1="412.50" x2="502.38" y2="414.30" stroke="#1a1a1a" stroke-width="0.8" />
<line x1="505.75" y1="412.50" x2="505.75" y2="415.50" stroke="#1a1a1a" stroke-width="1" />
<text x="505.75" y="426.40" font-size="8.1" text-anchor="middle" fill="#2a2a2a" stroke="#2a2a2a" stroke-width="0.18" textLength="14.35" lengthAdjust="spacingAndGlyphs" >540</text>
<text x="415.90" y="440.30" font-size="9" text-anchor="middle" fill="#2a2a2a" stroke="#2a2a2a" stroke-width="0.25" textLength="26" lengthAdjust="spacingAndGlyphs" >Seconds</text>
<text x="296.10" y="350.80" font-size="10" text-anchor="middle" fill="#2a2a2a" stroke="#2a2a2a" stroke-width="0.15" textLength="102.4" lengthAdjust="spacingAndGlyphs" transform="rotate(-90 296.10 350.80)" >Relative platelet percentage (%)</text>
<line x1="339.80" y1="272.20" x2="352.70" y2="272.20" stroke="#3a5f80" stroke-width="2" />
<line x1="339.80" y1="281.20" x2="352.70" y2="281.20" stroke="#b0304a" stroke-width="2" />
<line x1="420.80" y1="272.20" x2="432.60" y2="272.20" stroke="#c8c8c8" stroke-width="2" />
<line x1="420.80" y1="281.20" x2="432.60" y2="281.20" stroke="#f0a030" stroke-width="2" />
<text x="356.40" y="274.10" font-size="7.6" text-anchor="start" fill="#2a2a2a" stroke="#2a2a2a" stroke-width="0.1" textLength="49.2" lengthAdjust="spacingAndGlyphs" >wtADAMTS13</text>
<text x="356.40" y="283.10" font-size="7.6" text-anchor="start" fill="#2a2a2a" stroke="#2a2a2a" stroke-width="0.1" textLength="54.5" lengthAdjust="spacingAndGlyphs" >1251N+1368N</text>
<text x="437.20" y="274.10" font-size="7.6" text-anchor="start" fill="#2a2a2a" stroke="#2a2a2a" stroke-width="0.1" textLength="54" lengthAdjust="spacingAndGlyphs" >No ADAMTS13</text>
<text x="437.20" y="283.10" font-size="7.6" text-anchor="start" fill="#2a2a2a" stroke="#2a2a2a" stroke-width="0.1" textLength="54.8" lengthAdjust="spacingAndGlyphs" >1255N+1368N</text>
<polyline points="324.2,318.3 329.7,322.5 333.9,332.2 338.1,326.8 341.2,328.0 344.8,333.4 346.9,339.0 350.4,335.0 357.3,351.1 361.9,350.6 367.7,347.7 370.6,340.2 374.6,346.0 377.5,343.1 380.4,350.6 386.1,347.7 389.6,345.4 394.2,346.0 397.7,347.7 400.0,344.2 403.0,344.0 407.1,336.3 411.3,341.9 416.5,339.8 422.8,338.4 428.0,333.6 431.1,339.8 434.7,330.4 439.2,329.4 444.4,333.6 450.0,339.6 454.6,348.3 458.1,340.8 461.5,341.3 467.3,339.0 474.2,343.7 478.3,341.3 484.6,350.6 488.1,343.7 495.0,341.3 498.5,343.1 504.2,341.9 505.5,341.7" fill="none" stroke="#c8c8c8" stroke-width="1.4" stroke-linejoin="round"/>
<polyline points="324.2,318.3 327.3,323.0 330.3,330.4 333.3,334.6 336.3,334.0 340.0,331.0 344.2,335.2 344.9,346.6 346.5,360.6 349.8,365.5 354.0,372.0 358.1,375.4 362.2,382.0 367.1,385.3 370.4,383.7 375.0,385.8 377.9,390.6 381.7,394.0 385.6,396.3 390.4,394.4 392.8,398.3 397.1,399.7 401.9,402.6 406.7,403.1 411.5,402.6 416.3,404.0 420.2,405.2 425.0,404.0 430.1,404.5 440.0,405.6 447.5,405.2 460.0,405.6 476.8,405.2 485.1,403.5 491.4,405.2 497.6,404.5 501.8,402.5 504.9,403.0" fill="none" stroke="#f0a535" stroke-width="1.2" stroke-linejoin="round"/>
<polyline points="324.2,318.9 326.0,329.2 329.1,340.0 332.1,347.3 335.7,353.4 338.3,357.3 343.2,361.4 347.4,368.0 350.7,367.2 354.0,370.5 358.1,372.1 364.7,379.6 368.0,378.7 372.1,382.0 377.0,377.0 378.8,380.0 380.8,386.3 385.6,383.8 389.4,384.8 394.2,389.6 398.1,391.1 401.0,393.0 406.7,391.1 411.0,389.1 414.4,390.6 417.8,388.2 421.2,389.6 425.0,386.9 430.1,386.4 435.0,387.8 441.3,391.0 447.5,392.0 455.9,394.7 460.5,393.0 465.3,396.2 471.5,398.3 478.8,398.3 485.1,399.3 492.4,401.0 497.6,400.4 501.8,397.7 504.9,398.9" fill="none" stroke="#20487a" stroke-width="1.2" stroke-linejoin="round"/>
<polyline points="324.2,318.9 326.6,329.2 327.9,336.4 330.3,340.0 333.3,338.3 337.0,340.0 340.6,335.8 344.8,339.5 346.5,350.7 350.7,351.5 353.1,372.1 358.1,384.5 363.8,401.8 368.0,399.3 371.3,401.3 375.0,400.2 379.8,400.7 384.1,398.3 387.5,402.1 390.9,400.2 394.2,400.7 397.6,403.1 401.0,400.7 404.8,405.0 407.7,403.6 411.0,400.4 414.4,403.1 417.8,401.2 425.0,404.0 427.0,401.4 432.2,402.5 435.3,400.4 439.2,404.5 444.4,403.5 447.5,406.0 451.7,403.5 458.0,406.6 463.2,405.5 468.4,406.2 472.6,405.5 478.8,406.2 485.1,407.0 490.3,405.5 495.5,406.2 498.7,401.8 501.8,403.5 504.9,402.5" fill="none" stroke="#a81c2c" stroke-width="1.2" stroke-linejoin="round"/>
<rect x="0" y="0" width="520" height="1" fill="#505050"/><rect x="0" y="0" width="1" height="455" fill="#505050"/><rect x="519" y="0" width="1" height="455" fill="#505050"/><rect x="0" y="454" width="520" height="1" fill="#505050"/><rect x="0" y="453.4" width="520" height="0.6" fill="#505050" fill-opacity="0.5"/>
</svg>
</body></html>
